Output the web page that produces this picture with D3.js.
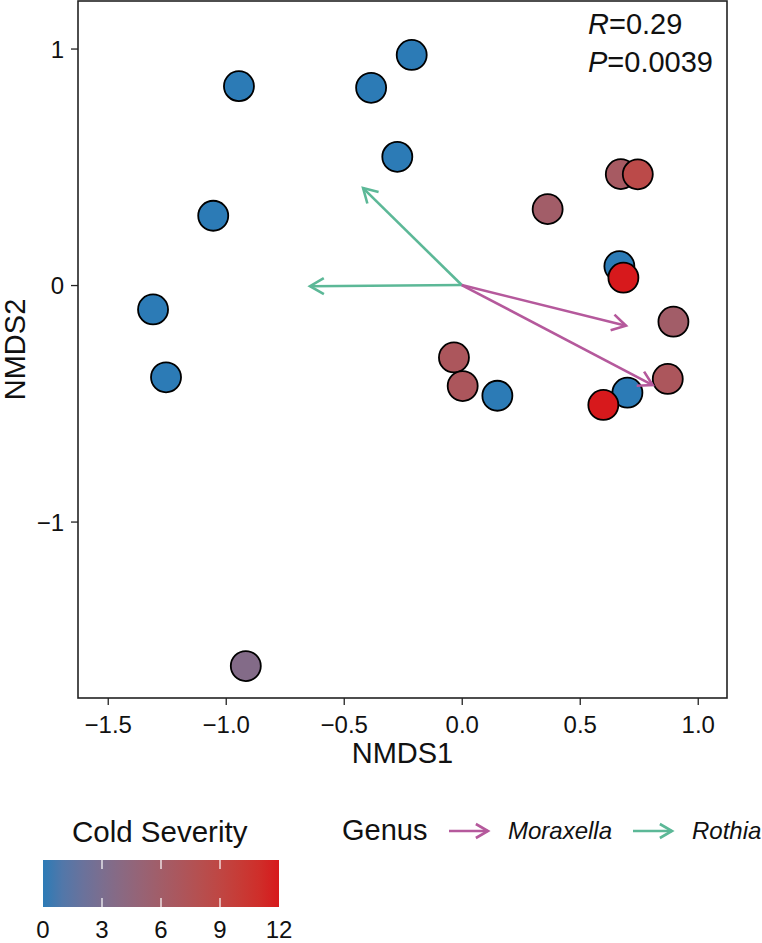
<!DOCTYPE html>
<html>
<head>
<meta charset="utf-8">
<script src="https://cdn.jsdelivr.net/npm/d3@7"></script>
<style>
  html, body { margin: 0; padding: 0; background: #fff; }
  svg { display: block; font-family: "Liberation Sans", Arial, Helvetica, sans-serif; }
</style>
</head>
<body>
<svg id="chart" width="762" height="943"></svg>
<script>
// ---- data ----
const nmds1 = [-0.944, -0.384, -0.212, -0.273, -1.053, -1.308, -1.253, -0.915,
               0.674, 0.746, 0.364, 0.668, 0.685, 0.897, 0.873,
               -0.033, 0.004, 0.151, 0.702, 0.600];
const nmds2 = [0.841, 0.834, 0.973, 0.542, 0.293, -0.103, -0.390, -1.611,
               0.469, 0.468, 0.321, 0.080, 0.031, -0.155, -0.397,
               -0.306, -0.427, -0.468, -0.455, -0.507];
const severity = [0, 0, 0, 0, 0, 0, 0, 3.5,
                  6.5, 8.5, 6, 0, 12, 6, 7,
                  7, 7, 0, 0, 12];

const arrowGenus = ["Rothia", "Rothia", "Moraxella", "Moraxella"];
const arrowX = [-0.418, -0.643, 0.696, 0.809];
const arrowY = [0.410, -0.005, -0.172, -0.423];

const genusNames = ["Moraxella", "Rothia"];
const genusColors = ["#B5599C", "#5CB897"];

const xTicks = [-1.5, -1.0, -0.5, 0.0, 0.5, 1.0];
const yTicks = [-1, 0, 1];
const sevTicks = [0, 3, 6, 9, 12];

const statR = "0.29";
const statP = "0.0039";

// ---- setup ----
const svg = d3.select("#chart");
const L = 78, R = 727, T = 1, B = 698;
const x = d3.scaleLinear().domain([-1.626, 1.124]).range([L, R]);
const y = d3.scaleLinear().domain([-1.746, 1.201]).range([B, T]);
const col = d3.scaleLinear().domain([0, 12]).range(["#2C7BB6", "#D7191C"]).interpolate(d3.interpolateLab);
const gcol = d3.scaleOrdinal().domain(genusNames).range(genusColors);
const axisColor = "#222";

// axes
const xAxis = svg.append("g").attr("transform", `translate(0,${B})`)
  .call(d3.axisBottom(x).tickValues(xTicks).tickSize(7).tickPadding(5).tickFormat(d3.format(".1f")));
const yAxis = svg.append("g").attr("transform", `translate(${L},0)`)
  .call(d3.axisLeft(y).tickValues(yTicks).tickSize(7).tickPadding(7).tickFormat(d3.format("d")));
[xAxis, yAxis].forEach(a => {
  a.select(".domain").remove();
  a.selectAll(".tick line").attr("stroke", axisColor).attr("stroke-width", 1.3);
  a.selectAll(".tick text").attr("fill", "#111").style("font-size", "24px")
    .style("font-family", '"Liberation Sans", Arial, sans-serif');
});
xAxis.selectAll(".tick text").attr("dy", "0.95em");
yAxis.selectAll(".tick text").attr("dy", "0.36em");

// panel border
svg.append("rect").attr("x", L).attr("y", T).attr("width", R - L).attr("height", B - T)
  .attr("fill", "none").attr("stroke", axisColor).attr("stroke-width", 1.6);

// points
const pts = nmds1.map((v, i) => ({x: v, y: nmds2[i], s: severity[i]}));
svg.append("g").selectAll("circle").data(pts).join("circle")
  .attr("cx", d => x(d.x)).attr("cy", d => y(d.y)).attr("r", 15)
  .attr("fill", d => col(d.s)).attr("stroke", "#000").attr("stroke-width", 1.8);

// arrows
function drawArrow(g, x0, y0, x1, y1, color, headLen, width) {
  const ang = Math.atan2(y1 - y0, x1 - x0);
  g.append("line").attr("x1", x0).attr("y1", y0).attr("x2", x1).attr("y2", y1)
    .attr("stroke", color).attr("stroke-width", width).attr("stroke-linecap", "butt");
  const a1 = ang + Math.PI - Math.PI / 6, a2 = ang + Math.PI + Math.PI / 6;
  g.append("polyline")
    .attr("points", [[x1 + headLen * Math.cos(a1), y1 + headLen * Math.sin(a1)], [x1, y1],
                     [x1 + headLen * Math.cos(a2), y1 + headLen * Math.sin(a2)]].map(p => p.join(",")).join(" "))
    .attr("fill", "none").attr("stroke", color).attr("stroke-width", width)
    .attr("stroke-linejoin", "miter").attr("stroke-linecap", "butt");
}
const ag = svg.append("g");
arrowX.forEach((v, i) => drawArrow(ag, x(0), y(0), x(v), y(arrowY[i]), gcol(arrowGenus[i]), 16, 2.6));

// stats text
const st = svg.append("g").style("font-size", "29px").attr("fill", "#111");
const t1 = st.append("text").attr("x", 588).attr("y", 34);
t1.append("tspan").style("font-style", "italic").text("R");
t1.append("tspan").text("=" + statR);
const t2 = st.append("text").attr("x", 588).attr("y", 72);
t2.append("tspan").style("font-style", "italic").text("P");
t2.append("tspan").text("=" + statP);

// axis titles
svg.append("text").attr("x", (L + R) / 2).attr("y", 763).attr("text-anchor", "middle")
  .style("font-size", "29px").attr("fill", "#111").text("NMDS1");
svg.append("text").attr("transform", `translate(25,${(T + B) / 2}) rotate(-90)`).attr("text-anchor", "middle")
  .style("font-size", "29px").attr("fill", "#111").text("NMDS2");

// colour legend
svg.append("text").attr("x", 72).attr("y", 842).style("font-size", "29.5px").attr("fill", "#111").text("Cold Severity");
const cb = d3.scaleLinear().domain([0, 12]).range([43, 279]);
const grad = svg.append("defs").append("linearGradient").attr("id", "sevgrad")
  .attr("x1", "0%").attr("x2", "100%").attr("y1", "0%").attr("y2", "0%");
d3.range(0, 12.01, 1).forEach(v => grad.append("stop").attr("offset", (v / 12 * 100) + "%").attr("stop-color", col(v)));
const cbTop = 860, cbH = 47;
svg.append("rect").attr("x", cb(0)).attr("y", cbTop).attr("width", cb(12) - cb(0)).attr("height", cbH)
  .attr("fill", "url(#sevgrad)");
sevTicks.filter(v => v > 0 && v < 12).forEach(v => {
  svg.append("line").attr("x1", cb(v)).attr("x2", cb(v)).attr("y1", cbTop).attr("y2", cbTop + 9)
    .attr("stroke", "#fff").attr("stroke-width", 1.2);
  svg.append("line").attr("x1", cb(v)).attr("x2", cb(v)).attr("y1", cbTop + cbH - 9).attr("y2", cbTop + cbH)
    .attr("stroke", "#fff").attr("stroke-width", 1.2);
});
svg.append("g").selectAll("text").data(sevTicks).join("text")
  .attr("x", d => cb(d)).attr("y", 938).attr("text-anchor", "middle")
  .style("font-size", "24px").attr("fill", "#111").text(d => d);

// genus legend
svg.append("text").attr("x", 342).attr("y", 840).style("font-size", "29px").attr("fill", "#111").text("Genus");
const legX = [449, 633];
const lg = svg.append("g");
genusNames.forEach((g, i) => {
  drawArrow(lg, legX[i], 831, legX[i] + 39, 831, gcol(g), 14, 2.6);
  lg.append("text").attr("x", legX[i] + 59).attr("y", 839).style("font-size", "24px")
    .style("font-style", "italic").attr("fill", "#111").text(g);
});
</script>
</body>
</html>
